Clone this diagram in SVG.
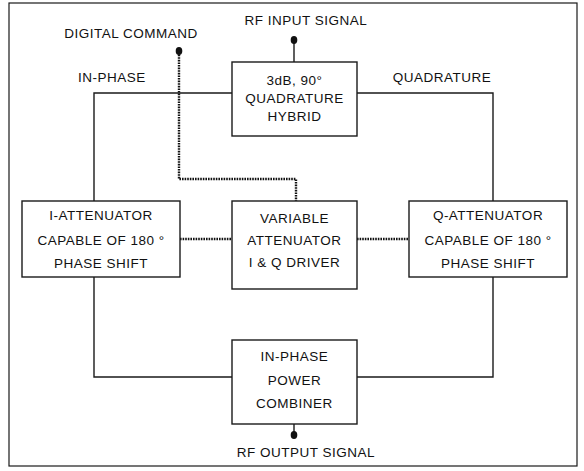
<svg xmlns="http://www.w3.org/2000/svg" width="584" height="471" viewBox="0 0 584 471">
  <style>
    .box { fill: #fff; stroke: #1a1a1a; stroke-width: 1.4; }
    .wire { fill: none; stroke: #1a1a1a; stroke-width: 1.4; }
    .ctrl { fill: none; stroke: #111; stroke-width: 2.4; stroke-dasharray: 1.6 1; }
    .lbl { font-family: "Liberation Sans", Arial, sans-serif; font-size: 13.5px; letter-spacing: 0.5px; fill: #111; }
    .mid { text-anchor: middle; }
    .dot { fill: #111; }
  </style>

  <rect x="0" y="0" width="584" height="471" fill="#fff"/>
  <!-- outer frame -->
  <rect x="9" y="3" width="568" height="463" fill="none" stroke="#1a1a1a" stroke-width="1.2"/>

  <!-- connectors -->
  <g id="connectors">
    <line class="wire" x1="294" y1="40" x2="294" y2="62"/>
    <polyline class="wire" points="232,93 94,93 94,201"/>
    <polyline class="wire" points="357,93 493,93 493,201"/>
    <polyline class="wire" points="94,277 94,377 232,377"/>
    <polyline class="wire" points="493,277 493,377 357,377"/>
    <line class="wire" x1="294" y1="424" x2="294" y2="434"/>
    <polyline class="ctrl" points="179,52 179,179 296,179 296,201"/>
    <line class="ctrl" x1="180" y1="239" x2="232" y2="239"/>
    <line class="ctrl" x1="357" y1="239" x2="409" y2="239"/>
    <ellipse class="dot" cx="294" cy="40" rx="3.3" ry="4"/>
    <ellipse class="dot" cx="179" cy="51" rx="3.3" ry="4"/>
    <ellipse class="dot" cx="294" cy="435" rx="3.3" ry="4"/>
  </g>

  <!-- free labels -->
  <g id="labels">
    <text class="lbl mid" x="306" y="25">RF INPUT SIGNAL</text>
    <text class="lbl mid" x="131" y="38">DIGITAL COMMAND</text>
    <text class="lbl mid" x="112" y="82">IN-PHASE</text>
    <text class="lbl mid" x="442" y="82">QUADRATURE</text>
    <text class="lbl mid" x="306" y="457">RF OUTPUT SIGNAL</text>
  </g>

  <g id="hybrid">
    <rect class="box" x="232" y="62" width="125" height="74"/>
    <text class="lbl mid" x="294.5" y="85">3dB, 90°</text>
    <text class="lbl mid" x="294.5" y="103">QUADRATURE</text>
    <text class="lbl mid" x="294.5" y="121">HYBRID</text>
  </g>

  <g id="i-attenuator">
    <rect class="box" x="22" y="201" width="158" height="76"/>
    <text class="lbl mid" x="101" y="220">I-ATTENUATOR</text>
    <text class="lbl mid" x="101" y="245">CAPABLE OF 180 °</text>
    <text class="lbl mid" x="101" y="268">PHASE SHIFT</text>
  </g>

  <g id="driver">
    <rect class="box" x="232" y="201" width="125" height="88"/>
    <text class="lbl mid" x="294.5" y="223">VARIABLE</text>
    <text class="lbl mid" x="294.5" y="245">ATTENUATOR</text>
    <text class="lbl mid" x="294.5" y="267">I &amp; Q DRIVER</text>
  </g>

  <g id="q-attenuator">
    <rect class="box" x="409" y="201" width="158" height="76"/>
    <text class="lbl mid" x="488" y="220">Q-ATTENUATOR</text>
    <text class="lbl mid" x="488" y="245">CAPABLE OF 180 °</text>
    <text class="lbl mid" x="488" y="268">PHASE SHIFT</text>
  </g>

  <g id="combiner">
    <rect class="box" x="232" y="340" width="125" height="84"/>
    <text class="lbl mid" x="294.5" y="361">IN-PHASE</text>
    <text class="lbl mid" x="294.5" y="385">POWER</text>
    <text class="lbl mid" x="294.5" y="408">COMBINER</text>
  </g>
</svg>
